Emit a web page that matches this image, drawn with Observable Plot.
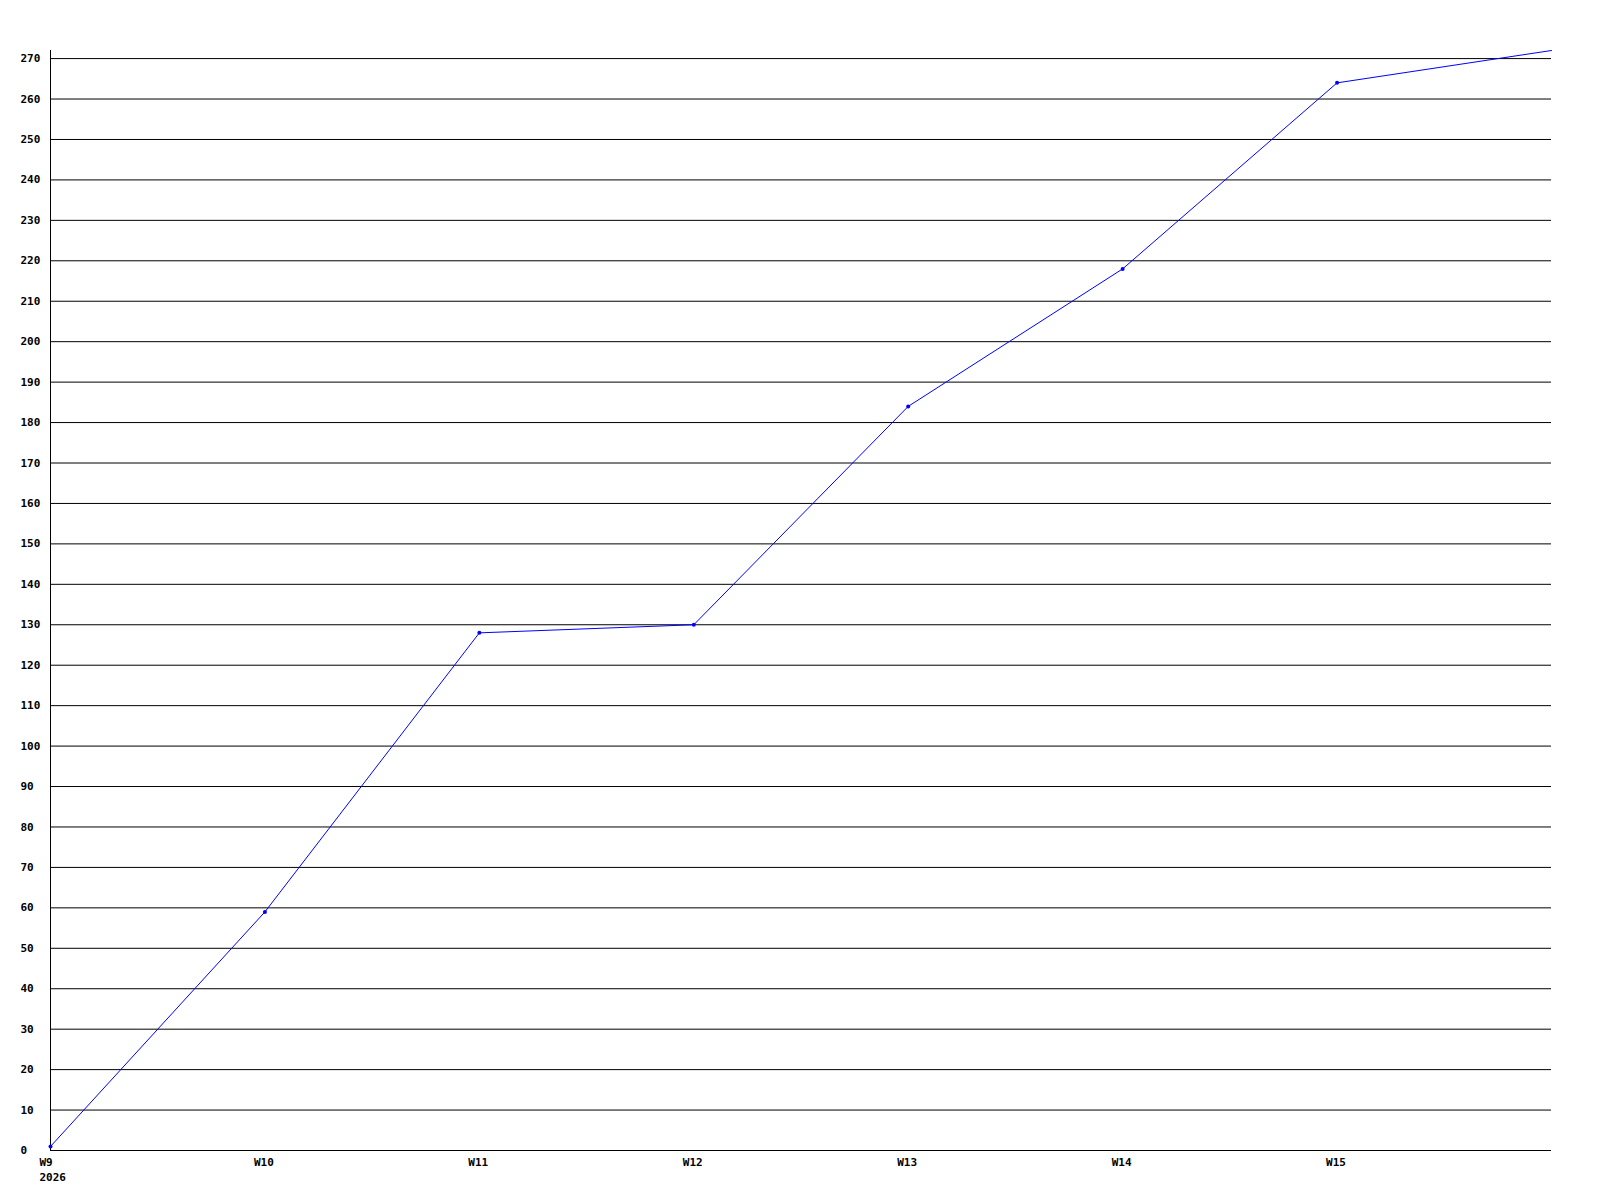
<!DOCTYPE html>
<html>
<head>
<meta charset="utf-8">
<script src="https://cdn.jsdelivr.net/npm/d3@7"></script>
<script src="https://cdn.jsdelivr.net/npm/@observablehq/plot@0.6"></script>
<style>
  html, body { margin: 0; padding: 0; background: #fff; }
  #chart svg { display: block; }
</style>
</head>
<body>
<div id="chart"></div>
<script>
// Week numbers (2026) and cumulative values
const weeks = [9, 10, 11, 12, 13, 14, 15, 16];
const values = [1, 59, 128, 130, 184, 218, 264, 272];
// Weeks that carry a point marker (the last point is the running value)
const markedWeeks = [9, 10, 11, 12, 13, 14, 15];
// Axis ticks
const xTicks = [9, 10, 11, 12, 13, 14, 15];
const yTicks = d3.range(0, 271, 10);
const yearLabel = "2026";

const data = weeks.map((w, i) => ({week: w, value: values[i]}));
const marked = data.filter(d => markedWeeks.includes(d.week));

const font = "bold 11px 'DejaVu Sans Mono', 'Liberation Mono', monospace";

const chart = Plot.plot({
  width: 1600,
  height: 1200,
  marginLeft: 50,
  marginRight: 49,
  marginTop: 50,
  marginBottom: 50,
  style: {font, background: "#fff", color: "#000"},
  x: {domain: [9, 16]},
  y: {domain: [0, 272]},
  marks: [
    Plot.gridY(yTicks, {stroke: "#000", strokeOpacity: 1, strokeWidth: 1}),
    Plot.ruleX([9], {stroke: "#000", strokeWidth: 1}),
    Plot.axisY({
      ticks: yTicks,
      tickSize: 0,
      tickPadding: 30,
      textAnchor: "start",
      label: null,
      fill: "#000"
    }),
    Plot.axisX({
      ticks: xTicks,
      tickSize: 0,
      tickPadding: 5,
      textAnchor: "start",
      dx: -11,
      lineHeight: 1.36,
      label: null,
      fill: "#000",
      tickFormat: d => d === 9 ? `W${d}\n${yearLabel}` : `W${d}`
    }),
    Plot.line(data, {x: "week", y: "value", stroke: "#0000ff", strokeWidth: 1}),
    Plot.dot(marked, {x: "week", y: "value", r: 2, fill: "#0000ff", stroke: "none"})
  ]
});
document.getElementById("chart").appendChild(chart);
</script>
</body>
</html>
